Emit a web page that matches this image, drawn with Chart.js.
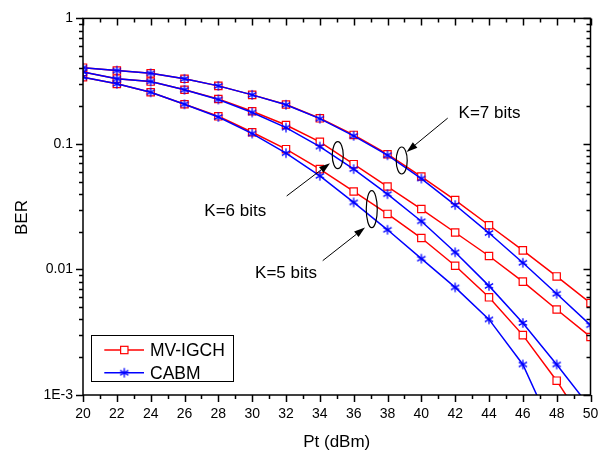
<!DOCTYPE html>
<html>
<head>
<meta charset="utf-8">
<title>BER vs Pt</title>
<script src="https://cdn.jsdelivr.net/npm/chart.js@4.4.1/dist/chart.umd.min.js"></script>
<style>
  body { margin: 0; background: #fff; }
  #wrap { width: 610px; height: 453px; }
</style>
</head>
<body>
<div id="wrap"><canvas id="berChart" width="610" height="453"></canvas></div>
<script>
// transmit power (dBm)
const ptValues = [20, 22, 24, 26, 28, 30, 32, 34, 36, 38, 40, 42, 44, 46, 48, 50];

// BER for each scheme and bit count K
const mvK7   = [0.405, 0.384, 0.365, 0.330, 0.290, 0.246, 0.206, 0.160, 0.118, 0.0828, 0.0550, 0.0357, 0.0225, 0.0142, 0.0088, 0.0054];
const cabmK7 = [0.405, 0.384, 0.365, 0.330, 0.290, 0.246, 0.205, 0.159, 0.116, 0.0813, 0.0530, 0.0326, 0.0195, 0.0113, 0.0064, 0.0036];
const mvK6   = [0.375, 0.331, 0.314, 0.270, 0.228, 0.182, 0.1415, 0.104, 0.069, 0.0458, 0.0303, 0.0197, 0.0128, 0.0080, 0.0048, 0.0029];
const cabmK6 = [0.375, 0.331, 0.314, 0.270, 0.226, 0.178, 0.135, 0.0952, 0.063, 0.0398, 0.0242, 0.0137, 0.0074, 0.00375, 0.00175, 0.00079];
const mvK5   = [0.340, 0.301, 0.258, 0.207, 0.166, 0.124, 0.0908, 0.063, 0.0418, 0.0277, 0.0178, 0.0107, 0.0060, 0.0030, 0.0013, 0.0005];
const cabmK5 = [0.340, 0.301, 0.258, 0.207, 0.164, 0.121, 0.0844, 0.0557, 0.0342, 0.0207, 0.0122, 0.0072, 0.0040, 0.00175, 0.00045, 0.0001];

const xTickValues = [20, 22, 24, 26, 28, 30, 32, 34, 36, 38, 40, 42, 44, 46, 48, 50];
const yTickValues = [0.001, 0.01, 0.1, 1];
const yTickLabels = ['1E-3', '0.01', '0.1', '1'];

// "K=n bits" callouts, positions in data units
const bitGroups = [
  { text: 'K=7 bits', label: [44.03, 0.175], tail: [41.56, 0.1606], head: [39.13, 0.0864], ellipse: [38.84, 0.0738], rx: 5.5, ry: 13.5 },
  { text: 'K=6 bits', label: [29.0, 0.0293], tail: [32.04, 0.0385], head: [34.6, 0.0703], ellipse: [35.06, 0.0813], rx: 5.5, ry: 13.5 },
  { text: 'K=5 bits', label: [32.0, 0.0093], tail: [34.17, 0.01175], head: [36.67, 0.0216], ellipse: [37.07, 0.0302], rx: 5.5, ry: 18.5 }
];

const FONT = '"Liberation Sans", Arial, sans-serif';
const RED = '#ff0000';
const BLUE = '#0000ff';

// six-armed asterisk marker for CABM
function makeAsterisk(color) {
  const c = document.createElement('canvas');
  c.width = 12; c.height = 12;
  const g = c.getContext('2d');
  g.strokeStyle = color;
  g.lineWidth = 1.3;
  g.beginPath();
  [90, 30, 150].forEach(deg => {
    const r = 4.8, t = deg * Math.PI / 180;
    g.moveTo(6 - r * Math.cos(t), 6 - r * Math.sin(t));
    g.lineTo(6 + r * Math.cos(t), 6 + r * Math.sin(t));
  });
  g.stroke();
  return c;
}
const asterisk = makeAsterisk(BLUE);

const toPoints = arr => ptValues.map((p, i) => ({ x: p, y: arr[i] }));

const mvStyle = {
  label: 'MV-IGCH', borderColor: RED, borderWidth: 1.5, pointStyle: 'rect', pointRadius: 5.2,
  pointBorderColor: RED, pointBackgroundColor: '#fff', pointBorderWidth: 1.2, tension: 0, order: 2
};
const cabmStyle = {
  label: 'CABM', borderColor: BLUE, borderWidth: 1.5, pointStyle: asterisk, pointRadius: 5,
  tension: 0, order: 1
};

function drawArrow(ctx, x1, y1, x2, y2) {
  const ang = Math.atan2(y2 - y1, x2 - x1);
  const len = 11, half = 3.6;
  const bx = x2 - len * Math.cos(ang), by = y2 - len * Math.sin(ang);
  ctx.lineWidth = 1;
  ctx.beginPath();
  ctx.moveTo(x1, y1);
  ctx.lineTo(bx, by);
  ctx.stroke();
  ctx.beginPath();
  ctx.moveTo(x2, y2);
  ctx.lineTo(bx + half * Math.sin(ang), by - half * Math.cos(ang));
  ctx.lineTo(bx - half * Math.sin(ang), by + half * Math.cos(ang));
  ctx.closePath();
  ctx.fill();
}

// frame, tick marks, callouts, legend and axis titles
const decorations = {
  id: 'decorations',
  afterDraw(chart) {
    const { ctx, chartArea: a, scales: { x, y } } = chart;
    ctx.save();
    ctx.strokeStyle = '#000';
    ctx.fillStyle = '#000';

    bitGroups.forEach(g => {
      ctx.lineWidth = 1.2;
      ctx.beginPath();
      ctx.ellipse(x.getPixelForValue(g.ellipse[0]), y.getPixelForValue(g.ellipse[1]), g.rx, g.ry, 0, 0, Math.PI * 2);
      ctx.stroke();
      drawArrow(ctx,
        x.getPixelForValue(g.tail[0]), y.getPixelForValue(g.tail[1]),
        x.getPixelForValue(g.head[0]), y.getPixelForValue(g.head[1]));
      ctx.font = '17px ' + FONT;
      ctx.textAlign = 'center';
      ctx.textBaseline = 'middle';
      ctx.fillText(g.text, x.getPixelForValue(g.label[0]), y.getPixelForValue(g.label[1]));
    });

    // box
    ctx.lineWidth = 1.5;
    ctx.strokeRect(a.left, a.top, a.right - a.left, a.bottom - a.top);

    // tick marks: outward on left/bottom, inward on right/top
    ctx.lineWidth = 1.5;
    ctx.beginPath();
    y.ticks.forEach(t => {
      const py = Math.round(y.getPixelForValue(t.value)) + 0.5;
      const len = t.label ? 7 : 4;
      ctx.moveTo(a.left - len, py); ctx.lineTo(a.left, py);
      ctx.moveTo(a.right - len, py); ctx.lineTo(a.right, py);
    });
    const xMarks = [];
    xTickValues.forEach((v, i) => {
      xMarks.push({ v, len: 7 });
      if (i < xTickValues.length - 1) xMarks.push({ v: (v + xTickValues[i + 1]) / 2, len: 4 });
    });
    xMarks.forEach(m => {
      const px = Math.round(x.getPixelForValue(m.v)) + 0.5;
      ctx.moveTo(px, a.bottom); ctx.lineTo(px, a.bottom + m.len);
      ctx.moveTo(px, a.top); ctx.lineTo(px, a.top + m.len);
    });
    ctx.stroke();

    // legend
    const ds = chart.data.datasets;
    const entries = [ds.find(d => d.label === 'MV-IGCH'), ds.find(d => d.label === 'CABM')];
    ctx.lineWidth = 1;
    ctx.strokeStyle = '#000';
    ctx.fillStyle = '#fff';
    ctx.fillRect(91.5, 335.5, 142, 46);
    ctx.strokeRect(91.5, 335.5, 142, 46);
    entries.forEach((d, i) => {
      const ly = 350 + i * 22.7;
      ctx.strokeStyle = d.borderColor;
      ctx.lineWidth = 1.5;
      ctx.beginPath();
      ctx.moveTo(104.3, ly); ctx.lineTo(144, ly);
      ctx.stroke();
      if (d.pointStyle === 'rect') {
        const s = d.pointRadius * Math.SQRT1_2;
        ctx.fillStyle = '#fff';
        ctx.lineWidth = 1.2;
        ctx.fillRect(124.3 - s, ly - s, 2 * s, 2 * s);
        ctx.strokeRect(124.3 - s, ly - s, 2 * s, 2 * s);
      } else {
        ctx.drawImage(d.pointStyle, 124.3 - d.pointStyle.width / 2, ly - d.pointStyle.height / 2);
      }
      ctx.fillStyle = '#000';
      ctx.font = '17.5px ' + FONT;
      ctx.textAlign = 'left';
      ctx.textBaseline = 'middle';
      ctx.fillText(d.label, 150, ly + 1);
    });

    // axis titles
    ctx.fillStyle = '#000';
    ctx.font = '17px ' + FONT;
    ctx.textAlign = 'center';
    ctx.textBaseline = 'middle';
    ctx.fillText('Pt (dBm)', (a.left + a.right) / 2, 442);
    ctx.translate(22, 217.5);
    ctx.rotate(-Math.PI / 2);
    ctx.fillText('BER', 0, 0);
    ctx.restore();
  }
};

new Chart(document.getElementById('berChart'), {
  type: 'line',
  data: {
    datasets: [
      { ...mvStyle, data: toPoints(mvK7) },
      { ...mvStyle, data: toPoints(mvK6) },
      { ...mvStyle, data: toPoints(mvK5) },
      { ...cabmStyle, data: toPoints(cabmK7) },
      { ...cabmStyle, data: toPoints(cabmK6) },
      { ...cabmStyle, data: toPoints(cabmK5) }
    ]
  },
  options: {
    responsive: false,
    animation: false,
    layout: { padding: { top: 16.5, right: 19.5, left: 0, bottom: 0 } },
    plugins: { legend: { display: false }, tooltip: { enabled: false } },
    scales: {
      x: {
        type: 'linear', min: 20, max: 50,
        grid: { display: false, drawTicks: false },
        border: { display: false },
        ticks: { padding: 11, color: '#000', font: { family: FONT, size: 14 }, autoSkip: false, maxRotation: 0 },
        afterBuildTicks: s => { s.ticks = xTickValues.map(v => ({ value: v })); },
        afterFit: s => { s.height = 58; }
      },
      y: {
        type: 'logarithmic', min: 0.001, max: 1,
        grid: { display: false, drawTicks: false },
        border: { display: false },
        ticks: {
          padding: 10, color: '#000', font: { family: FONT, size: 14 }, autoSkip: false,
          callback: v => {
            const i = yTickValues.findIndex(t => Math.abs(t - v) / t < 1e-6);
            return i >= 0 ? yTickLabels[i] : '';
          }
        },
        afterBuildTicks: s => {
          const ticks = [];
          yTickValues.forEach((d, i) => {
            ticks.push({ value: d });
            if (i < yTickValues.length - 1) for (let k = 2; k <= 9; k++) ticks.push({ value: d * k });
          });
          s.ticks = ticks;
        },
        afterFit: s => { s.width = 83; }
      }
    }
  },
  plugins: [decorations]
});
</script>
</body>
</html>
